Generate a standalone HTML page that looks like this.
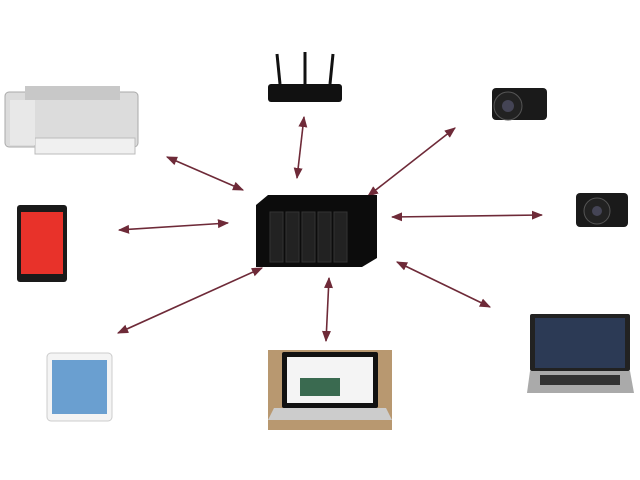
<!DOCTYPE html>
<html><head><meta charset="utf-8"><style>body{margin:0;background:#fff}svg{display:block}</style></head>
<body>
<svg width="640" height="480" viewBox="0 0 640 480" xmlns="http://www.w3.org/2000/svg">
<defs>
<marker id="a" viewBox="0 0 10 10" refX="9" refY="5" markerWidth="7" markerHeight="7" orient="auto-start-reverse"><path d="M0,1 L10,5 L0,9 z" fill="#6e2a38"/></marker>
</defs>
<g stroke="#6e2a38" stroke-width="1.6" marker-start="url(#a)" marker-end="url(#a)">
<line x1="167" y1="157" x2="243" y2="190"/>
<line x1="304" y1="117" x2="297" y2="178"/>
<line x1="455" y1="128" x2="368" y2="196"/>
<line x1="119" y1="230" x2="228" y2="223"/>
<line x1="392" y1="217" x2="542" y2="215"/>
<line x1="118" y1="333" x2="262" y2="268"/>
<line x1="329" y1="278" x2="326" y2="341"/>
<line x1="397" y1="262" x2="490" y2="307"/>
</g>
<!-- printer -->
<rect x="5" y="92" width="133" height="55" rx="4" fill="#dcdcdc" stroke="#aaa"/>
<rect x="25" y="86" width="95" height="14" fill="#c8c8c8"/>
<rect x="35" y="138" width="100" height="16" fill="#f0f0f0" stroke="#bbb"/>
<rect x="10" y="100" width="25" height="45" fill="#e8e8e8"/>
<!-- router -->
<rect x="268" y="84" width="74" height="18" rx="3" fill="#111"/>
<line x1="280" y1="84" x2="277" y2="54" stroke="#111" stroke-width="3"/>
<line x1="305" y1="84" x2="305" y2="52" stroke="#111" stroke-width="3"/>
<line x1="330" y1="84" x2="333" y2="54" stroke="#111" stroke-width="3"/>
<!-- camera 1 -->
<rect x="492" y="88" width="55" height="32" rx="4" fill="#1a1a1a"/>
<circle cx="508" cy="106" r="14" fill="#222" stroke="#555"/>
<circle cx="508" cy="106" r="6" fill="#445"/>
<!-- NAS -->
<polygon points="256,205 268,195 377,195 377,258 362,267 256,267" fill="#0c0c0c"/>
<g fill="#222" stroke="#333"><rect x="270" y="212" width="13" height="50"/><rect x="286" y="212" width="13" height="50"/><rect x="302" y="212" width="13" height="50"/><rect x="318" y="212" width="13" height="50"/><rect x="334" y="212" width="13" height="50"/></g>
<!-- phone -->
<rect x="17" y="205" width="50" height="77" rx="3" fill="#1a1a1a"/>
<rect x="21" y="212" width="42" height="62" fill="#e8322a"/>
<!-- camera 2 -->
<rect x="576" y="193" width="52" height="34" rx="4" fill="#1a1a1a"/>
<circle cx="597" cy="211" r="13" fill="#222" stroke="#555"/>
<circle cx="597" cy="211" r="5" fill="#445"/>
<!-- tablet -->
<rect x="47" y="353" width="65" height="68" rx="4" fill="#f4f4f4" stroke="#ccc"/>
<rect x="52" y="360" width="55" height="54" fill="#6a9fd0"/>
<!-- macbook -->
<rect x="268" y="350" width="124" height="80" fill="#b89870"/>
<rect x="282" y="352" width="96" height="56" rx="2" fill="#111"/>
<rect x="287" y="357" width="86" height="46" fill="#f4f4f4"/>
<rect x="300" y="378" width="40" height="18" fill="#3a6a50"/>
<polygon points="274,408 386,408 392,420 268,420" fill="#ccc"/>
<!-- hp laptop -->
<rect x="530" y="314" width="100" height="57" rx="2" fill="#222"/>
<rect x="535" y="318" width="90" height="50" fill="#2c3a55"/>
<polygon points="530,371 630,371 634,393 527,393" fill="#aaa"/>
<rect x="540" y="375" width="80" height="10" fill="#333"/>
</svg>
</body></html>
